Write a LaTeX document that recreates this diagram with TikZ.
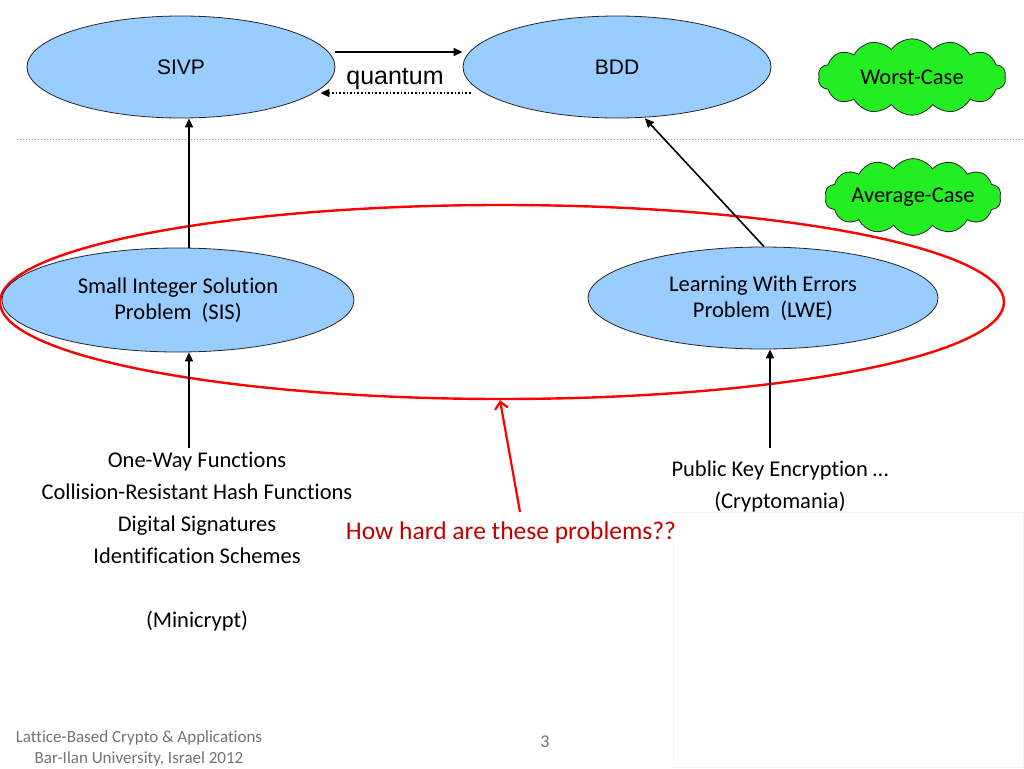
\documentclass[tikz,border=0pt]{standalone}
\usepackage{fontspec}
\setmainfont[RawFeature=-liga]{Carlito}
\newfontfamily\arialf{Liberation Sans}
\usetikzlibrary{shapes.geometric,shapes.symbols,arrows.meta}
\definecolor{ellblue}{HTML}{99CCFF}
\definecolor{cloudgreen}{HTML}{22EE22}
\definecolor{hardred}{HTML}{C00000}
\definecolor{sepgreen}{HTML}{66BB44}
\tikzset{
  probell/.style={ellipse, draw=black!85, line width=0.8pt, fill=ellblue, inner sep=0pt},
  casecloud/.style={cloud, cloud puffs=14, cloud puff arc=110, aspect=2.4, draw=black!85, line width=0.8pt, fill=cloudgreen, inner sep=0pt, font=\fontsize{22.5}{26}\selectfont},
  arr/.style={line width=1.6pt, -{Triangle[length=9pt,width=8pt]}},
  listtxt/.style={font=\fontsize{22.5}{32}\selectfont, align=center, inner sep=0pt},
  foot/.style={font=\fontsize{17}{21}\selectfont, text=black!55, align=center, inner sep=0pt}
}
\begin{document}
\begin{tikzpicture}[x=1pt,y=-1pt]
\useasboundingbox (0,0) rectangle (1024,768);
% faint placeholder rectangle
\draw[black!4, line width=0.8pt] (673,512) rectangle (1023,767);
% separator
\draw[sepgreen, dotted, line width=1pt] (17,139) -- (1024,139);
% top ellipses
\node[probell, minimum width=308pt, minimum height=102pt, font=\arialf\fontsize{21}{25}\selectfont] (sivp) at (181,67) {SIVP};
\node[probell, minimum width=308pt, minimum height=102pt, font=\arialf\fontsize{21}{25}\selectfont] (bdd) at (617,67) {BDD};
\draw[arr] (sivp.east |- 0,52) -- (bdd.west |- 0,52);
\draw[line width=1.6pt, dotted, -{Triangle[length=9pt,width=8pt]}] ([xshift=8pt]bdd.west |- 0,93) -- ([xshift=-15pt]sivp.east |- 0,93);
\node[font=\arialf\fontsize{25}{29}\selectfont, inner sep=0pt] (quantum) at (395,79) {quantum};
% clouds
\node[casecloud, minimum width=188pt, minimum height=74pt] (worst) at (912,77) {Worst-Case};
\node[casecloud, aspect=3, minimum width=174pt, minimum height=72pt] (avg) at (913,197) {Average-Case};
% red ellipse
\node[ellipse, draw=red, line width=2.4pt, minimum width=1004pt, minimum height=194pt, inner sep=0pt] (hard) at (502,302) {};
% middle ellipses
\node[probell, minimum width=352pt, minimum height=104pt, font=\fontsize{22.5}{26}\selectfont, align=center] (sis) at (178,300) {Small Integer Solution\\Problem\ \ (SIS)};
\node[probell, minimum width=350pt, minimum height=102pt, font=\fontsize{22.5}{26}\selectfont, align=center] (lwe) at (763,298) {Learning With Errors\\Problem\ \ (LWE)};
% arrows to hard problems
\draw[arr] ([xshift=11pt]sis.north) -- ([xshift=8pt]sivp.south);
\draw[arr] ([xshift=1pt]lwe.north) -- (bdd.south -| 645,0);
% lists
\node[listtxt] (mini) at (197,542) {One-Way Functions\\Collision-Resistant Hash Functions\\Digital Signatures\\Identification Schemes\\[32pt](Minicrypt)};
\node[listtxt] (crypto) at (780,486) {Public Key Encryption …\\(Cryptomania)};
\coordinate (minitop) at (189,448);
\coordinate (cryptotop) at (770,448);
\draw[arr] (minitop) -- (sis.south -| minitop);
\draw[arr] (cryptotop) -- (lwe.south -| cryptotop);
% question
\node[font=\fontsize{25.5}{30}\selectfont, text=hardred, inner sep=0pt] (question) at (511,533) {How hard are these problems??};
\draw[red, line width=2.2pt, -{Straight Barb[length=7pt,width=13pt]}] (520,512) -- ([xshift=-2pt]hard.south);
% footer
\node[foot] (footer) at (139,748) {Lattice-Based Crypto \& Applications\\Bar-Ilan University, Israel 2012};
\node[foot, font=\fontsize{18}{21}\selectfont] (pagenum) at (545,742) {3};
\end{tikzpicture}
\end{document}
